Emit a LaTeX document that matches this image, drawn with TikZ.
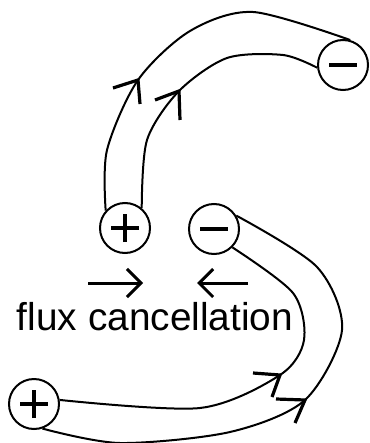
\documentclass[tikz,border=0pt]{standalone}
\usepackage{fontspec}
\setmainfont{Liberation Sans}
\usetikzlibrary{arrows.meta}
\tikzset{
  charge/.style={circle, draw, line width=1pt, minimum size=25pt, inner sep=0pt},
  signline/.style={line width=1.8pt},
  pluscharge/.style={charge, path picture={
    \draw[signline] ([xshift=-7pt]path picture bounding box.center) -- ([xshift=7pt]path picture bounding box.center);
    \draw[signline] ([yshift=-7pt]path picture bounding box.center) -- ([yshift=7pt]path picture bounding box.center);}},
  minuscharge/.style={charge, path picture={
    \draw[signline] ([xshift=-7pt]path picture bounding box.center) -- ([xshift=7pt]path picture bounding box.center);}},
  fieldline/.style={line width=1pt},
  barb/.style={line width=1.6pt},
  fluxarrow/.style={line width=1.5pt, -{Straight Barb[length=7pt, width=14pt, line width=1.5pt]}},
  label/.style={font=\fontsize{19.4}{23}\selectfont, inner sep=0pt}
}
\begin{document}
\begin{tikzpicture}[x=0.5pt, y=-0.5pt]
\useasboundingbox (0,0) rectangle (369,443);
% charges
\node[pluscharge] (p1) at (125,228) {};
\node[minuscharge] (m1) at (343,65) {};
\node[minuscharge] (m2) at (214,229) {};
\node[pluscharge] (p3) at (34,404) {};
% arrow tips on field lines
\coordinate (ta) at (138,80);
\coordinate (tb) at (179,91);
\coordinate (tc) at (280,375);
\coordinate (td) at (305,400);
% upper loop
\draw[fieldline] plot[smooth] coordinates {(p1.138) (107,150) (ta) (190,31) (253,12) (m1.74)};
\draw[fieldline] plot[smooth] coordinates {(p1.50) (147,140) (tb) (227,58) (283,55) (m1.186)};
% lower loop
\draw[fieldline] plot[smooth] coordinates {(m2.31) (317,267) (342,330) (td) (230,432) (120,443) (p3.-71)};
\draw[fieldline] plot[smooth] coordinates {(m2.-45) (293,293) (304,340) (tc) (200,408) (p3.9)};
% arrowheads
\draw[barb] (140,104) -- (ta) -- (113,88);
\draw[barb] (180,120) -- (tb) -- (155,100);
\draw[barb] (272,397) -- (tc) -- (253,373);
\draw[barb] (295,423) -- (td) -- (276,399);
% flux cancellation arrows
\coordinate (ra0) at (88,283);
\coordinate (ra1) at (143,283);
\coordinate (la0) at (248,283);
\coordinate (la1) at (197,283);
\draw[fluxarrow] (ra0) -- (ra1);
\draw[fluxarrow] (la0) -- (la1);
\node[label, anchor=base] (txt) at (155,330) {flux cancellation};
\end{tikzpicture}
\end{document}
